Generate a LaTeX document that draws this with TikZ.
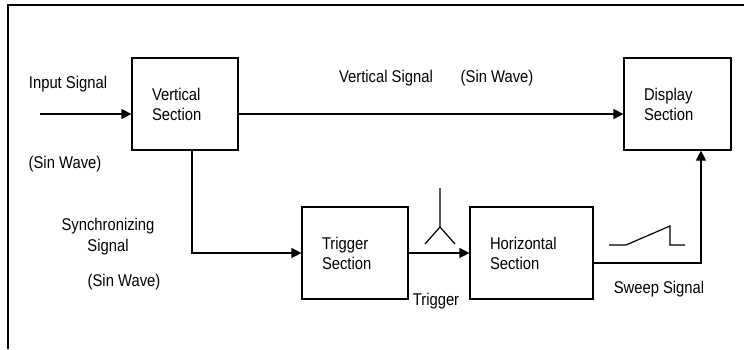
\documentclass[tikz,border=0pt]{standalone}
\usepackage{fontspec}
\setmainfont[FakeStretch=0.87]{Liberation Sans}
\usetikzlibrary{arrows.meta}
\begin{document}
\begin{tikzpicture}[x=1pt,y=-1pt,
  every node/.style={font=\fontsize{17}{20}\selectfont},
  box/.style={draw, line width=1.2pt, minimum height=92pt, text width=#1, inner xsep=20pt, inner ysep=0pt, align=left},
  lbl/.style={inner sep=0pt, align=center},
  conn/.style={line width=1.2pt, -{Triangle[length=10pt,width=10pt]}},
  plain/.style={line width=1.2pt}]
\useasboundingbox (0,0) rectangle (744,349);
\fill[white] (0,0) rectangle (744,349);
\draw[line width=1.4pt] (744,5) -- (8,5) -- (8,349);
% boxes
\node[box=66pt, minimum width=106pt] (vert) at (185,104) {Vertical\\Section};
\node[box=66pt, minimum width=106pt] (trig) at (355,253) {Trigger\\Section};
\node[box=83pt, minimum width=123pt] (horiz) at (531.5,253) {Horizontal\\Section};
\node[box=67pt, minimum width=107pt] (disp) at (677.5,104) {Display\\Section};
% input
\coordinate (in) at (40,114);
\draw[conn] (in) -- (vert.west |- in);
\draw[conn] (vert.east |- in) -- (disp.west |- in);
\coordinate (vdown) at (192,150);
\draw[conn] (vdown) |- (trig.west);
\draw[conn] (trig.east) -- (horiz.west);
\coordinate (sw) at (701,263);
\draw[conn] (horiz.east |- sw) -- (sw) -- (sw |- disp.south);
% antenna
\coordinate (a0) at (440,188);
\coordinate (a1) at (440,227);
\draw[plain] (a0) -- (a1) -- (425,244);
\draw[plain] (a1) -- (455,244);
% sweep waveform
\draw[plain] (609,245) -- (626,245) -- (670,226) -- (670,245) -- (685,245);
% labels
\node[lbl] (l1) at (68,84) {Input Signal};
\node[lbl] (l2) at (65,164) {(Sin Wave)};
\node[lbl] (l3) at (386,78) {Vertical Signal};
\node[lbl] (l4) at (497,78) {(Sin Wave)};
\node[lbl] (l5) at (108,226) {Synchronizing};
\node[lbl] (l6) at (108,247) {Signal};
\node[lbl] (l7) at (124,282) {(Sin Wave)};
\node[lbl] (l8) at (436,301) {Trigger};
\node[lbl] (l9) at (659,289) {Sweep Signal};
\end{tikzpicture}
\end{document}
